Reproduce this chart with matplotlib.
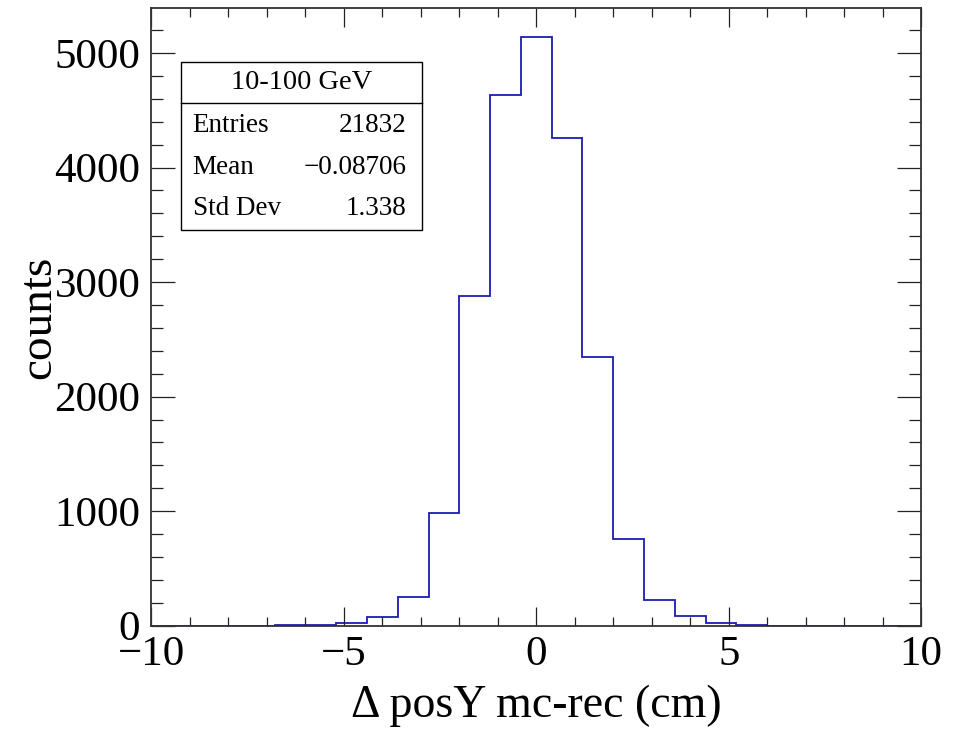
import numpy as np
import matplotlib.pyplot as plt
from matplotlib.ticker import MultipleLocator

# Histogram of the y-position residual (mc - rec), 25 bins over [-10, 10] cm
bin_edges = np.linspace(-10, 10, 26)
counts = [0, 0, 0, 0, 6, 6, 21, 79, 253, 982, 2882, 4635, 5137,
          4257, 2345, 757, 224, 87, 21, 8, 0, 0, 0, 0, 0]

stats_title = "10-100 GeV"
stats_names = ["Entries", "Mean", "Std Dev"]
stats_values = ["21832", "\u22120.08706", "1.338"]

plt.rcParams['font.family'] = ['Liberation Serif', 'DejaVu Serif']
plt.rcParams['mathtext.fontset'] = 'stix'

fig = plt.figure(figsize=(9.63, 7.31), dpi=100)
ax = fig.add_axes([0.1573, 0.1441, 0.7991, 0.8450])

ax.stairs(counts, bin_edges, color='#1c1cb0', linewidth=1.3, baseline=0)

ax.set_xlim(-10, 10)
ax.set_ylim(0, 1.05 * max(counts))

# ROOT-like ticks: inward, on all four sides
ax.xaxis.set_major_locator(MultipleLocator(5))
ax.xaxis.set_minor_locator(MultipleLocator(1))
ax.yaxis.set_major_locator(MultipleLocator(1000))
ax.yaxis.set_minor_locator(MultipleLocator(200))
ax.tick_params(axis='both', which='both', direction='in', top=True, right=True,
               width=0.9, colors='#222222', labelcolor='black')
ax.tick_params(axis='x', which='major', length=13.5, pad=7, labelsize=31)
ax.tick_params(axis='x', which='minor', length=6.8)
ax.tick_params(axis='y', which='major', length=17, pad=8, labelsize=31)
ax.tick_params(axis='y', which='minor', length=8.6)
for sp in ax.spines.values():
    sp.set_linewidth(1.3)
    sp.set_color('#333333')

ax.set_xlabel("\u0394 posY mc-rec (cm)", fontsize=33)
ax.set_ylabel("counts", fontsize=34)
ax.xaxis.set_label_coords(0.5, -0.095)
ax.yaxis.set_label_coords(-0.118, 0.50)

# Stats box
bx0, bx1 = 0.038, 0.351
by0, by1, bdiv = 0.6406, 0.913, 0.8467
ax.add_patch(plt.Rectangle((bx0, by0), bx1 - bx0, by1 - by0, transform=ax.transAxes,
                           facecolor='white', edgecolor='black', linewidth=1.0, zorder=5))
ax.plot([bx0, bx1], [bdiv, bdiv], transform=ax.transAxes, color='black',
        linewidth=1.0, zorder=6)
ax.text((bx0 + bx1) / 2, (by1 + bdiv) / 2, stats_title, transform=ax.transAxes,
        ha='center', va='center', fontsize=20.5, zorder=7)
row_y = [0.8104, 0.7424, 0.6759]
for name, val, y in zip(stats_names, stats_values, row_y):
    ax.text(0.0535, y, name, transform=ax.transAxes, ha='left', va='center',
            fontsize=19.5, zorder=7)
    ax.text(0.3316, y, val, transform=ax.transAxes, ha='right', va='center',
            fontsize=19.5, zorder=7)

fig.savefig('out.png', dpi=100)
